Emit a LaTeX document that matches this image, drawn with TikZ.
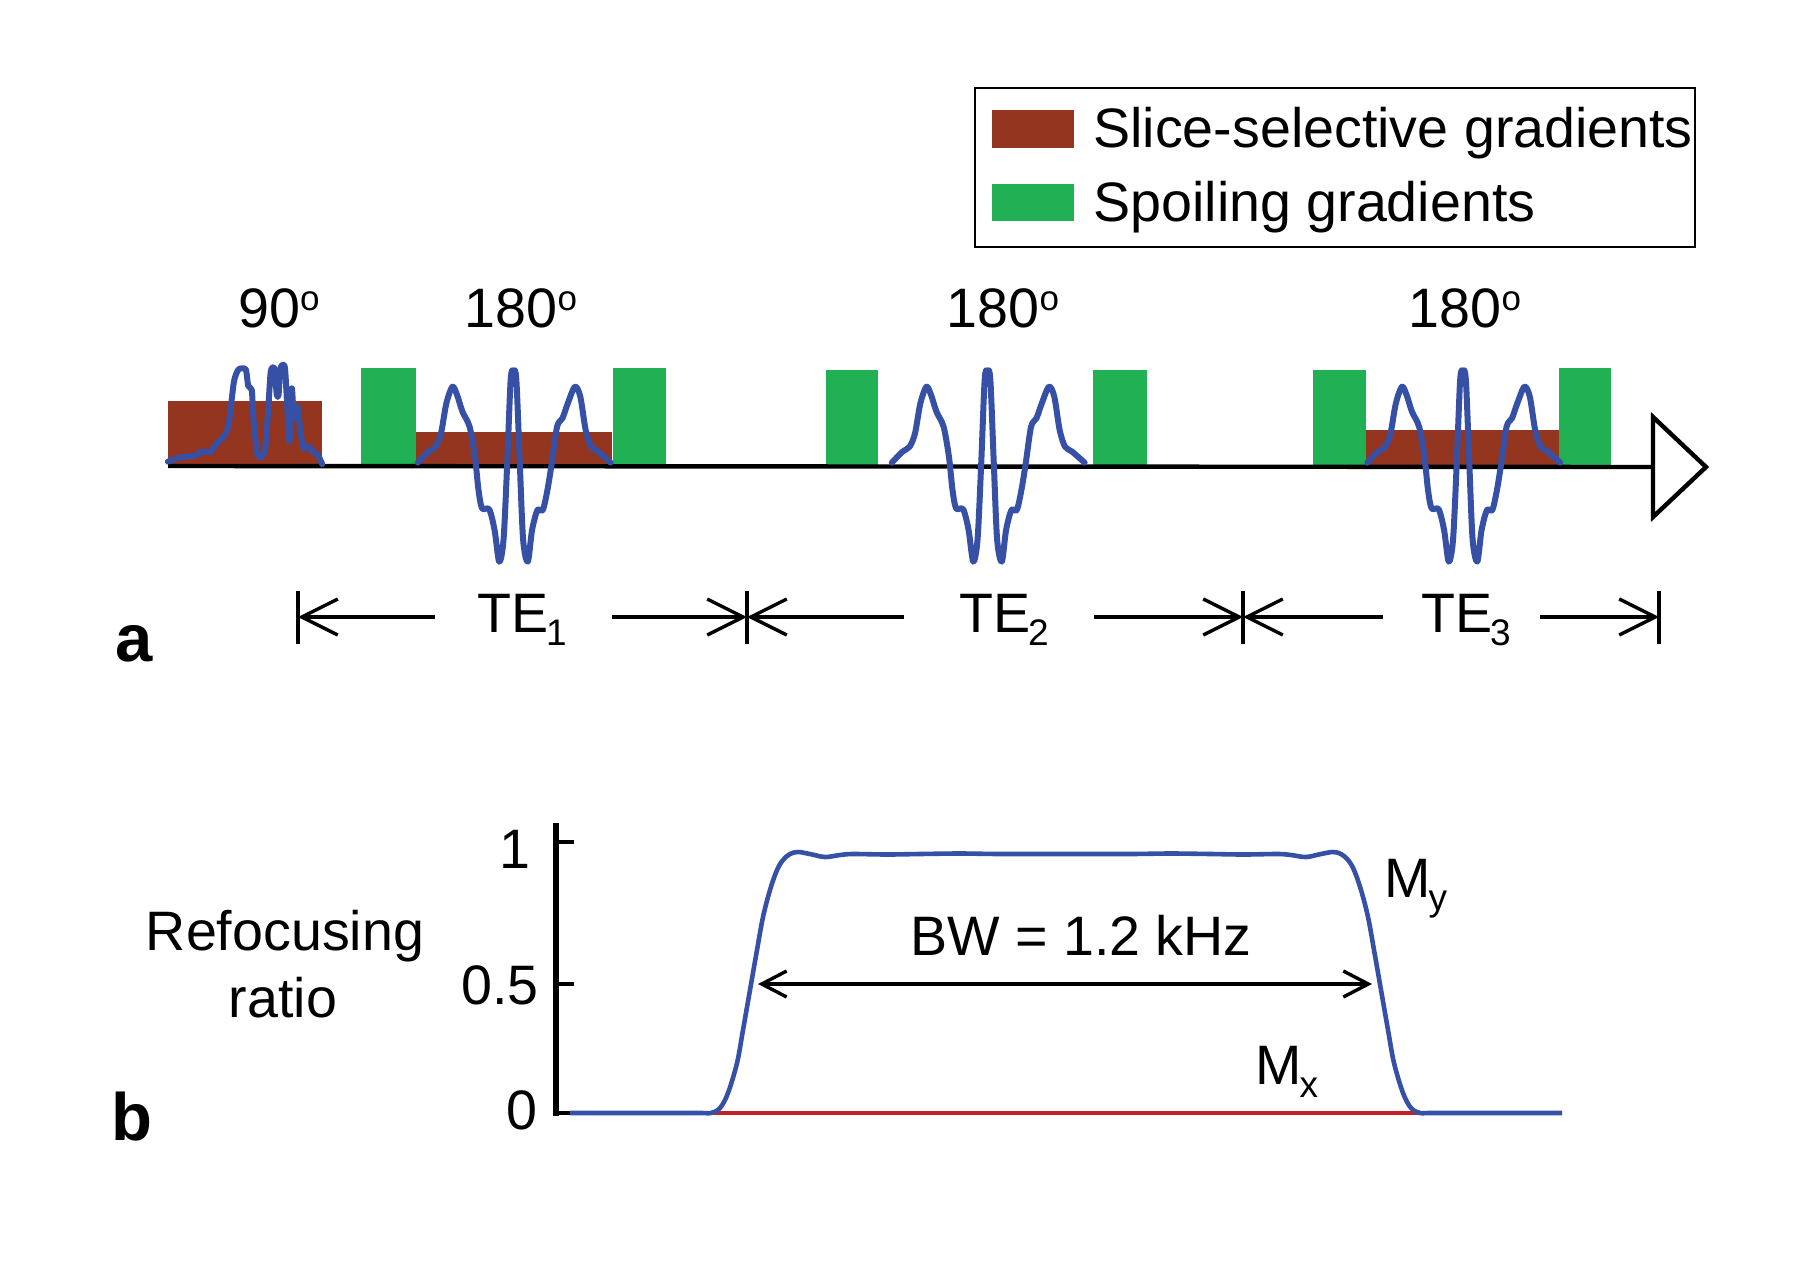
\documentclass[tikz,border=0pt]{standalone}
\usepackage{fontspec}
\setmainfont{Liberation Sans}
\usetikzlibrary{arrows.meta}
\definecolor{brownbar}{HTML}{94351F}
\definecolor{greenbar}{HTML}{21B154}
\definecolor{pulseblue}{HTML}{3650A6}
\definecolor{mxred}{HTML}{C4202A}
\newcommand{\subtxt}[1]{\kern-0.04em\raisebox{-0.24em}{\fontsize{18.5}{20}\selectfont #1}}
\newcommand{\suptxt}[1]{\raisebox{0.3em}{\fontsize{17.5}{20}\selectfont #1}}
\newcommand{\refocpulse}[1]{%
  \begin{scope}[shift={(#1,466)},x=0.17857pt,y=-0.16667pt]
    \draw[pulseline] plot[smooth,tension=0.5] coordinates {(-268,-10)(-238,-43)(-218,-58)(-203,-98)(-188,-188)(-171,-238)(-158,-213)(-143,-163)(-123,-118)(-108,-28)(-98,72)(-88,127)(-68,130)(-53,192)(-40,287)(-28,222)(-18,2)(-8,-258)(0,-286)(8,-258)(18,2)(27,222)(40,287)(52,192)(67,132)(82,132)(95,72)(107,-8)(122,-118)(137,-143)(152,-188)(172,-238)(187,-208)(202,-108)(217,-58)(237,-43)(272,-10)};
  \end{scope}}
\tikzset{
  lbl/.style={inner sep=0pt,font=\fontsize{27.8}{30}\selectfont},
  lblb/.style={inner sep=0pt,font=\fontsize{33.5}{36}\bfseries\selectfont},
  slicebar/.style={fill=brownbar,draw=none},
  spoilbar/.style={fill=greenbar,draw=none},
  pulseline/.style={draw=pulseblue,line width=3pt,line join=round,line cap=round},
  baseaxis/.style={draw=black,line width=2.2pt},
  dimbar/.style={draw=black,line width=1.7pt},
  dimarrow/.style={draw=black,line width=1.7pt,-{Straight Barb[length=18pt,width=18pt,line width=1.7pt]}},
  bwarrow/.style={draw=black,line width=1.7pt,{Straight Barb[length=12.5pt,width=13pt,line width=1.7pt]}-{Straight Barb[length=12.5pt,width=13pt,line width=1.7pt]}},
  axisline/.style={draw=black,line width=3pt},
  ticks/.style={draw=black,line width=2pt},
  curveblue/.style={draw=pulseblue,line width=2.3pt,line join=round},
  curvered/.style={draw=mxred,line width=2.3pt},
}
\begin{document}
\begin{tikzpicture}[x=0.5pt,y=-0.5pt]
\useasboundingbox (0,0) rectangle (1813,1263);
% legend
\draw[line width=0.9pt] (975,88) rectangle (1695,247);
\fill[slicebar] (992,110) rectangle (1074,148);
\fill[spoilbar] (992,184) rectangle (1074,221);
\node[lbl,anchor=base west] (legA) at (1093,148) {Slice-selective gradients};
\node[lbl,anchor=base west] (legB) at (1093,221) {Spoiling gradients};
% pulse labels
\node[lbl,anchor=base] (p90) at (279,327) {90\suptxt{o}};
\node[lbl,anchor=base] (p180a) at (521,327) {180\suptxt{o}};
\node[lbl,anchor=base] (p180b) at (1003,327) {180\suptxt{o}};
\node[lbl,anchor=base] (p180c) at (1465,327) {180\suptxt{o}};
% gradients
\fill[slicebar] (168,401) rectangle (322,465);
\fill[spoilbar] (361,368) rectangle (416,465);
\fill[slicebar] (416,432) rectangle (612,465);
\fill[spoilbar] (613,368) rectangle (666,465);
\fill[spoilbar] (826,370) rectangle (878,465);
\fill[spoilbar] (1093,370) rectangle (1147,465);
\fill[spoilbar] (1313,370) rectangle (1366,465);
\fill[slicebar] (1366,430) rectangle (1559,465);
\fill[spoilbar] (1559,368) rectangle (1611,465);
% time axis
\coordinate (axstart) at (168,466);
\coordinate (tritop) at (1653,417);
\coordinate (tribot) at (1653,517);
\coordinate (tritip) at (1706,467);
\coordinate (trimid) at (1653,467);
\draw[baseaxis] (axstart) -- (trimid);
\draw[baseaxis,fill=white,miter limit=10] (tritop) -- (tritip) -- (tribot) -- cycle;
% pulses
\begin{scope}[shift={(150,340)},x=0.17857pt,y=-0.16667pt]
\draw[pulseline] plot[smooth,tension=0.35] coordinates {(50,365)(85,352)(125,347)(145,335)(170,335)(185,312)(205,292)(220,255)(235,125)(248,88)(268,88)(275,138)(285,150)(290,240)(300,340)(310,352)(322,330)(330,225)(338,95)(348,85)(355,165)(360,165)(365,85)(378,85)(390,305)(397,145)(403,235)(413,200)(420,265)(430,325)(445,320)(455,335)(470,345)(482,372)};
\end{scope}
\refocpulse{513.5}
\refocpulse{987.5}
\refocpulse{1463}
% TE labels
\node[lbl,anchor=base] (te1) at (522,632) {TE\subtxt{1}};
\node[lbl,anchor=base] (te2) at (1004,632) {TE\subtxt{2}};
\node[lbl,anchor=base] (te3) at (1466,632) {TE\subtxt{3}};
\foreach \n/\x in {b0/298,b1/747,b2/1243,b3/1659}{
  \coordinate (\n top) at (\x,591);
  \coordinate (\n bot) at (\x,644);
  \coordinate (\n) at (\x,617);
  \draw[dimbar] (\n top) -- (\n bot);
}
\coordinate (t1l) at (435,617); \coordinate (t1r) at (612,617);
\coordinate (t2l) at (904,617); \coordinate (t2r) at (1094,617);
\coordinate (t3l) at (1383,617); \coordinate (t3r) at (1540,617);
\draw[dimarrow] (t1l) -- (b0);
\draw[dimarrow] (t1r) -- (b1);
\draw[dimarrow] (t2l) -- (b1);
\draw[dimarrow] (t2r) -- (b2);
\draw[dimarrow] (t3l) -- (b2);
\draw[dimarrow] (t3r) -- (b3);
\node[lblb,anchor=base west] (pa) at (115,661) {a};
\node[lblb,anchor=base west] (pb) at (111,1140) {b};
% panel b axis
\coordinate (axtop) at (556,823);
\coordinate (axbot) at (556,1113);
\coordinate (t1) at (574,842);
\coordinate (t1a) at (556,842);
\coordinate (t5) at (574,984);
\coordinate (t5a) at (556,984);
\coordinate (t0) at (572,1113);
\draw[axisline] (axtop) -- ([yshift=-1.5pt]axbot);
\draw[ticks] (t1a) -- (t1);
\draw[ticks] (t5a) -- (t5);
\draw[ticks] (axbot) -- (t0);
\node[lbl,anchor=base east] (y1) at (531,868) {1};
\node[lbl,anchor=base east] (y5) at (539,1004) {0.5};
\node[lbl,anchor=base east] (y0) at (538,1129) {0};
\node[lbl,anchor=base] (ylA) at (285,950) {Refocusing};
\node[lbl,anchor=base] (ylB) at (283,1017) {ratio};
% curves
\draw[curvered] (705,1113) -- (1425,1113);
\draw[curveblue] plot[smooth,tension=0.55] coordinates {(570,1113)(650,1113)(700,1113)(711,1113)(720,1108)(728,1093)(737,1063)(743,1030)(750,990)(757,950)(763,917)(770,890)(777,870)(783,860)(790,854)(798,852)(810,854)(825,857)(840,855)(853,854)(887,854.5)(920,854)(960,853.5)(1000,854)(1065,854)(1130,854)(1171,853.5)(1211,854)(1244,854.5)(1278,854)(1291,855)(1306,857)(1321,854)(1333,852)(1341,854)(1348,860)(1354,870)(1361,890)(1368,917)(1374,950)(1381,990)(1388,1030)(1394,1063)(1403,1093)(1411,1108)(1420,1113)(1431,1113)(1490,1113)(1562,1113)};
\coordinate (bwl) at (758,984);
\coordinate (bwr) at (1372,984);
\draw[bwarrow] (bwl) -- (bwr);
\node[lbl,anchor=base] (bw) at (1081,955) {BW = 1.2 kHz};
\node[lbl,anchor=base west] (my) at (1384,897) {M\subtxt{y}};
\node[lbl,anchor=base west] (mx) at (1255,1084) {M\subtxt{x}};
\end{tikzpicture}
\end{document}
